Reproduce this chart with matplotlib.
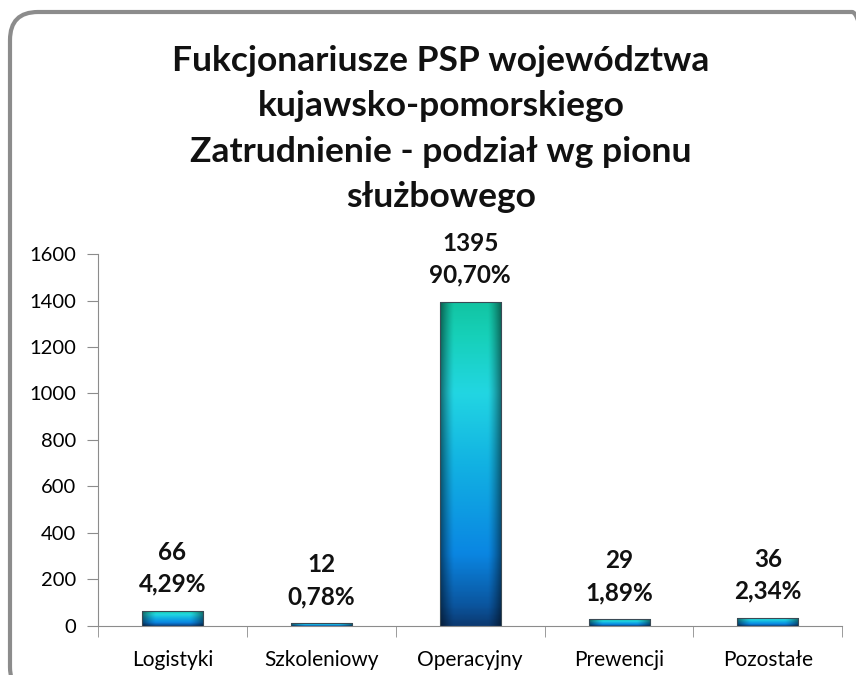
import numpy as np
import matplotlib.pyplot as plt
from matplotlib.colors import LinearSegmentedColormap
from matplotlib.patches import FancyBboxPatch
from matplotlib.transforms import IdentityTransform

categories = ["Logistyki", "Szkoleniowy", "Operacyjny", "Prewencji", "Pozostałe"]
counts = [66, 12, 1395, 29, 36]
shares = ["4,29%", "0,78%", "90,70%", "1,89%", "2,34%"]
title = ("Fukcjonariusze PSP województwa\nkujawsko-pomorskiego\n"
         "Zatrudnienie - podział wg pionu\nsłużbowego")

plt.rcParams["font.family"] = ["Lato", "DejaVu Sans"]

fig = plt.figure(figsize=(8.56, 6.75), dpi=100)
fig.patch.set_facecolor("white")
ax = fig.add_axes([0.1145, 0.0726, 0.8695, 0.5511])

# rounded chart border (partly cut by the image edges)
border = FancyBboxPatch((10, -20), 870, 683, boxstyle="round,pad=0,rounding_size=28",
                        transform=IdentityTransform(), fill=False,
                        edgecolor="#8c8c8c", linewidth=3, clip_on=False)
fig.patches.append(border)

x = np.arange(len(categories))
bars = ax.bar(x, counts, width=0.41, facecolor="none", edgecolor="#3a4a55",
              linewidth=0.8, zorder=3)

# vertical colour ramp, shaded darker towards the bar edges
ramp = LinearSegmentedColormap.from_list("bar", [
    (0.0, "#0b3a72"), (0.06, "#0b559e"), (0.22, "#0a86e2"),
    (0.5, "#12b2e2"), (0.72, "#22d6e2"), (0.9, "#16d0b8"), (1.0, "#12c4a2")])
rows = ramp(np.linspace(1, 0, 200))[:, :3]
u = np.linspace(-1, 1, 60)
shade = 1 - 0.5 * np.clip((np.abs(u) - 0.55) / 0.45, 0, 1) ** 1.3
img = rows[:, None, :] * shade[None, :, None]

for bar in bars:
    x0, w, h = bar.get_x(), bar.get_width(), bar.get_height()
    im = ax.imshow(img, extent=(x0, x0 + w, 0, h), aspect="auto", zorder=2,
                   interpolation="bilinear")
    im.set_clip_path(bar)

for xi, c, s in zip(x, counts, shares):
    ax.annotate(f"{c}\n{s}", (xi, c), xytext=(0, 11), textcoords="offset points",
                ha="center", va="bottom", fontsize=17.5, fontweight="bold",
                color="#111111", linespacing=1.45)

ax.set_xlim(-0.5, len(categories) - 0.5)
ax.set_ylim(0, 1600)
ax.set_yticks(range(0, 1601, 200))
ax.set_xticks(x)
ax.set_xticklabels(categories, fontsize=15)
ax.set_xticks(np.arange(-0.5, len(categories)), minor=True)
ax.tick_params(axis="x", which="major", length=0, pad=17)
ax.tick_params(axis="x", which="minor", length=8, color="#8c8c8c", direction="out")
ax.tick_params(axis="y", length=8, color="#8c8c8c", labelsize=14.5, pad=8)
for side in ["top", "right"]:
    ax.spines[side].set_visible(False)
for side in ["left", "bottom"]:
    ax.spines[side].set_color("#8c8c8c")

fig.text(0.515, 0.934, title, ha="center", va="top", fontsize=25.5,
         fontweight="bold", color="#111111", linespacing=1.52)

fig.savefig("out.png", dpi=100)
